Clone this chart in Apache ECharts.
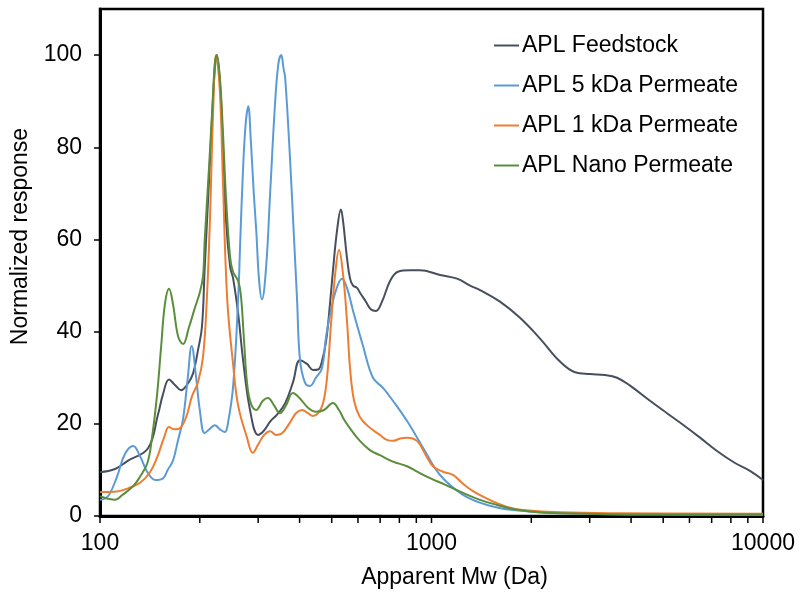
<!DOCTYPE html>
<html>
<head>
<meta charset="utf-8">
<script src="https://cdn.jsdelivr.net/npm/echarts@6/dist/echarts.min.js"></script>
<style>
html,body{margin:0;padding:0;background:#fff;}
#chart{width:800px;height:594px;}
</style>
</head>
<body>
<div id="chart"></div>
<script>
// ---- Data ----
const seriesNames = ['APL Feedstock', 'APL 5 kDa Permeate', 'APL 1 kDa Permeate', 'APL Nano Permeate'];

const feedMw  = [100,111,121.5,139.6,149.6,155,161.5,168,175.6,184,191,197.5,203,207,213,218,222,225,230,235,240,247,252,261,270,283.5,300,312,326,342,362,382,401,421,439,455,467,481,494,504,519,533,541,556,568,580,596,608,634,657,680,709,750,792,861,923,1061,1194,1307,1401,1609,1849,2125,2442,2710,3008,3338,3627,3971,4562,5133,5737,6457,7264,8233,9137,10000];
const feedVal = [9.5,10.2,12,14.7,22,26.5,29.6,28.5,27.3,28.7,31,36,41,54,72,87,97,100,94,80,64,54,51.6,44,34,23,17.6,18.5,20.5,22,24.5,29,33.8,33,31.7,31.8,33.5,38,46,53,62,66.5,64,56,51.5,50,49.5,48.5,46.5,44.8,44.5,46.5,51,53,53.3,53.3,52.3,51.5,50,49,46.5,43,38.5,33.5,31.2,30.8,30.6,30,28.3,25,22.3,19.8,17,14.1,11.5,9.8,7.8];

const kda5Mw  = [100,103.5,107,112.5,119,126,132,139,147,155,160,166,172,178,184,189,195,200,207,215,222,230,238,243,252,261,265,270,275,280,285,291,296,302,308,317,326,337,345,352,358,362,374,385,393,401,415,430,448,467,481,494,515,537,556,580,621,666,714,765,844,943,1061,1245,1471,1762,2442,4562,10000];
const kda5Val = [3.5,3.8,4.8,8.5,13.5,15.2,13,9.5,7.8,8.2,10,12,16.5,21,30,36.9,30,23,18,19,19.7,18.8,18.2,20,28,47,60,75,85,88.9,81.6,70,62,51,47,54,70,89,98,100,97,95,78,60,47,34,29,28.2,30,32,39,43.6,49,51.5,49.5,44.5,37,30,27.8,25,20.6,14.8,8.9,4.6,2.4,1.3,0.6,0.3,0.2];

const kda1Mw  = [100,107,112.5,121.5,132,141.5,148.5,156,161.5,168,174,182,189.5,197.5,204.5,210,215,219,224,230,235,242,252,261,277.6,289,300,312,326,340,352,372,390,407,424,439,455,471,484,498,512,526,541,556,568,584,608,643,699,734,765,804,844,904,956,1010,1083,1161,1245,1334,1450,1576,1725,1888,2442,3703,10000];
const kda1Val = [5.2,5.2,5.3,6,7.2,9.5,12.6,17,19.3,18.8,19,21.5,26,29,34.5,47,66,86,100,92,72,47,33,24,17,13.7,15.5,17.5,18.4,17.6,17.8,20,22.3,23,22.3,21.7,22.3,24.5,30,42,52.4,57.7,52.4,42.3,32,25,21.5,19.5,17.6,16.5,16.3,16.8,17,16.3,13.5,10.8,9.6,8.9,7,5.4,4,2.8,1.8,1.3,0.8,0.6,0.5];

const nanoMw  = [100,105,111,116.5,126,132,139,143.5,148.5,153,157,161.5,166,172,178,185.6,193,200,204.5,207,213,218,222,225,230,235,240,247,252,261,266,272,277.6,285,296,310,321,335,349,364,382,401,424,448,474,504,526,544,568,608,652,699,765,844,911,990,1098,1245,1401,1576,1762,1982,2442,4562,10000];
const nanoVal = [4.3,3.8,3.5,4.5,6.5,8.5,11.5,17,26,37,46,49.3,46,39,37.3,41,45,48.5,52,60,75,88,98,100,95,83,69,56,53,51,48,38,29,24.5,23,25,25.6,24,22.3,24,26.7,25.5,23.5,22.6,23,24.5,23,21,19,16.3,14.3,13.2,11.8,10.8,9.5,8.2,6.8,5,3.5,2.4,1.5,1,0.6,0.3,0.3];

const yTicks = [0, 20, 40, 60, 80, 100];
const xTicks = [100,200,300,400,500,600,700,800,900,1000,2000,3000,4000,5000,6000,7000,8000,9000,10000];

// ---- Chart ----
const FONT = "'Liberation Sans', Arial, sans-serif";
const colors = ['#474f5e', '#5b9bd5', '#ed7d31', '#5b8e3c'];
const zip = (a, b) => a.map((v, i) => [v, b[i]]);
const lineData = [zip(feedMw, feedVal), zip(kda5Mw, kda5Val), zip(kda1Mw, kda1Val), zip(nanoMw, nanoVal)];

const chart = echarts.init(document.getElementById('chart'), null, {renderer: 'canvas'});
const lineSeries = seriesNames.map((name, i) => ({
  name: name,
  type: 'line',
  data: lineData[i],
  showSymbol: false,
  symbol: 'none',
  smooth: 0.4,
  lineStyle: {width: 2, color: colors[i]},
  itemStyle: {color: colors[i]},
  z: 2 + i
}));

chart.setOption({
  animation: false,
  backgroundColor: '#fff',
  textStyle: {fontFamily: FONT},
  grid: {left: 100, right: 37, top: 9, bottom: 76, show: true, borderColor: '#000', borderWidth: 2.5, backgroundColor: 'transparent'},
  legend: {
    data: seriesNames,
    orient: 'vertical',
    left: 489,
    top: 29,
    itemWidth: 25,
    itemHeight: 2,
    itemGap: 17,
    icon: 'rect',
    textStyle: {fontSize: 23, color: '#000', fontFamily: FONT, lineHeight: 23, padding: [0,0,0,-2]}
  },
  xAxis: {
    type: 'log',
    logBase: 10,
    min: 100,
    max: 10000,
    name: 'Apparent Mw (Da)',
    nameLocation: 'middle',
    nameGap: 50,
    nameTextStyle: {fontSize: 23, color: '#000', fontFamily: FONT, padding: [0, 0, 0, 46]},
    axisLine: {show: true, lineStyle: {color: '#000', width: 3}},
    axisTick: {show: false},
    axisLabel: {fontSize: 23, color: '#000', margin: 16, fontFamily: FONT, formatter: v => String(Math.round(v))},
    splitLine: {show: false},
    minorTick: {show: false},
    minorSplitLine: {show: false}
  },
  yAxis: {
    type: 'value',
    min: 0,
    max: 110,
    interval: 10,
    name: 'Normalized response',
    nameLocation: 'middle',
    nameGap: 68,
    nameTextStyle: {fontSize: 23, color: '#000', fontFamily: FONT, padding: [0, 0, 0, 52]},
    axisLine: {show: true, lineStyle: {color: '#000', width: 3}},
    axisTick: {show: true, length: 6, lineStyle: {color: '#000', width: 1.5}, customValues: yTicks},
    axisLabel: {fontSize: 23, color: '#000', margin: 18, fontFamily: FONT, customValues: yTicks},
    splitLine: {show: false}
  },
  series: lineSeries.concat([{
    name: 'xticks',
    type: 'custom',
    silent: true,
    clip: false,
    z: 20,
    data: xTicks.map(v => [v, 0]),
    renderItem: function (params, api) {
      const p = api.coord([api.value(0), 0]);
      return {type: 'line', shape: {x1: p[0], y1: p[1], x2: p[0], y2: p[1] + 7}, style: {stroke: '#000', lineWidth: 1.5}};
    }
  }])
});
</script>
</body>
</html>
